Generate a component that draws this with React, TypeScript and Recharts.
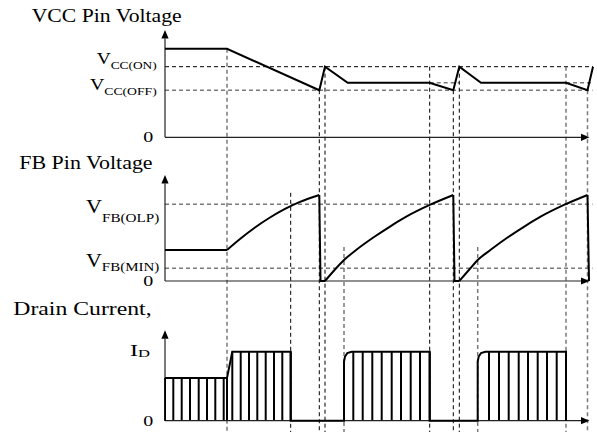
import React from "react";
import { ComposedChart, Line, XAxis, YAxis, ReferenceLine, ReferenceDot } from "recharts";

// time runs in arbitrary units, levels in arbitrary units
const VCC_T = [0, 12.4, 30.86, 32, 36.54, 52.9, 57.66, 58.86, 63.2, 80.2, 84.5, 85.6];
const VCC_V = [18.8, 18.8, 10, 15, 11.6, 11.6, 10, 15, 11.6, 11.6, 10, 15];
const VCC_ON = 15;
const VCC_OFF = 10;
const VCC_HOLD = 11.6;
const VCC_TOP = 22.8;

// FB pin: flat start, three charging ramps, sharp discharges
const FB_FLAT_T = [0, 12.4];
const FB_FLAT_V = [2.43, 2.43];
const FB_RISE1_T = [12.4, 15, 18, 21, 24, 27, 30.86];
const FB_RISE1_V = [2.43, 3.29, 4.19, 4.97, 5.64, 6.19, 6.73];
const FB_RISE2_T = [32, 34, 35.8, 38.34, 41.66, 45, 48.34, 52.94, 57.66];
const FB_RISE2_V = [0, 0.9, 1.64, 2.46, 3.4, 4.26, 5.05, 5.95, 6.73];
const FB_RISE3_T = [58.86, 60.86, 62.54, 65.2, 68.5, 71.86, 75.2, 79.8, 84.5];
const FB_RISE3_V = [0, 0.9, 1.64, 2.46, 3.4, 4.26, 5.05, 5.95, 6.73];
const FB_DROP_T = [30.86, 31.1, 32, 32, 57.66, 57.9, 58.86, 58.86, 84.5, 84.8];
const FB_DROP_V = [6.73, 0, 0, null, 6.73, 0, 0, null, 6.73, 0];
const FB_OLP = 6;
const FB_MIN = 1;
const FB_TOP = 8.3;

const ID_T = [0, 0, 12.4, 13.46, 25.14, 25.14, 35.8, 35.8, 36.0, 36.46, 37.34, 52.94, 52.94, 62.54, 62.54, 62.74, 63.2, 64.08, 80.2, 80.2];
const ID_V = [0, 0.62, 0.62, 1, 1, 0, 0, 0.857, 0.93, 0.98, 1, 1, 0, 0, 0.857, 0.93, 0.98, 1, 1, 0];
const ID_LOW = 0.62;
const ID_HIGH = 1;
const ID_TOP = 1.31;
const ID_STRIPES_LOW = [0, 1.66, 3.34, 5, 6.74, 8.4, 10.06, 11.74, 12.4];
const ID_STRIPES_HIGH = [13.46, 15.14, 16.8, 18.46, 20.14, 21.8, 23.46, 25.14, 37.66, 39.54, 41.46, 43.34, 45.34, 47.2, 49.14, 51, 52.94, 64.8, 66.8, 68.74, 70.74, 72.6, 74.54, 76.4, 78.34, 80.2];

// vertical timing markers: time, level where each starts, panel of that level
const MARK_T = [12.4, 25.14, 30.86, 32, 35.8, 52.94, 57.66, 58.86, 62.54, 80.2, 84.5];
const MARK_FROM = [18.8, 6.9, 10, 15, 2.66, 15, 10, 15, 2.66, 15, 10];
const MARK_PANEL = ["vcc", "fb", "vcc", "vcc", "fb", "vcc", "vcc", "vcc", "fb", "vcc", "vcc"];
const MARK_DARK = [false, true, true, true, false, true, true, true, false, false, false];

const LINE_END = 85.5;
const AXIS_END = 84.9;
const HOLD_EXT = [
  [52.94, 58.86],
  [80.2, 85.6],
];

const W = 597;
const H = 432;
const PLOT_LEFT = 165;
const T_MAX = 86.4;
const FONT = "Liberation Serif, Times New Roman, serif";
const GRAY = "#7a7a7a";

const domainFor = (zeroPx: number, pxPerUnit: number): [number, number] => [
  -(H - zeroPx) / pxPerUnit,
  zeroPx / pxPerUnit,
];
const DOMAINS: Record<string, [number, number]> = {
  vcc: domainFor(137.3, 4.707),
  fb: domainFor(281, 12.78),
  id: domainFor(420.7, 69),
};

const toPts = (t: number[], v: (number | null)[]) => t.map((x, i) => ({ t: x, v: v[i] }));

type Sub = {
  main: string;
  sub?: string;
  width: number;
  gap: number;
  mainSize: number;
  subSize?: number;
  mainDy: number;
  subDy?: number;
};

const subLabel = (cfg: Sub) => (props: any) => {
  const vb = props.viewBox || { x: 0, y: 0 };
  const x = vb.x - cfg.gap - cfg.width;
  return (
    <text
      x={x}
      y={vb.y + cfg.mainDy}
      fontFamily={FONT}
      fontSize={cfg.mainSize}
      fill="#000"
      textLength={cfg.width}
      lengthAdjust="spacingAndGlyphs"
    >
      <tspan>{cfg.main}</tspan>
      {cfg.sub ? (
        <tspan dy={(cfg.subDy ?? 0) - cfg.mainDy} fontSize={cfg.subSize}>
          {cfg.sub}
        </tspan>
      ) : null}
    </text>
  );
};

const zeroLabel = subLabel({ main: "0", width: 10, gap: 11.7, mainSize: 15, mainDy: 5 });

const arrowShape = (props: any) => {
  const { x1, y1, x2, y2 } = props;
  const a = Math.atan2(y2 - y1, x2 - x1);
  const len = 8.5;
  const half = 3.6;
  const bx = x2 - len * Math.cos(a);
  const by = y2 - len * Math.sin(a);
  const px = -Math.sin(a) * half;
  const py = Math.cos(a) * half;
  return (
    <g>
      <line x1={x1} y1={y1} x2={bx} y2={by} stroke="#222" strokeWidth={1.2} />
      <polygon points={`${x2},${y2} ${bx + px},${by + py} ${bx - px},${by - py}`} fill="#000" />
    </g>
  );
};

const dashed = (dark: boolean) => ({
  stroke: dark ? "#000" : GRAY,
  strokeWidth: dark ? 1 : 1.5,
  strokeDasharray: "4 3",
});

const wave = { dataKey: "v", dot: false, stroke: "#000", strokeWidth: 2, isAnimationActive: false } as const;

export default function App() {
  const tops: Record<string, number> = { vcc: VCC_TOP, fb: FB_TOP, id: ID_TOP };
  return (
    <div style={{ position: "absolute", left: 0, top: 0, width: W, height: H, background: "#fff" }}>
      <ComposedChart width={W} height={H} margin={{ top: 0, right: 0, bottom: 0, left: PLOT_LEFT }}>
        <XAxis type="number" dataKey="t" domain={[0, T_MAX]} allowDataOverflow hide />
        {Object.keys(DOMAINS).map((id) => (
          <YAxis key={id} yAxisId={id} type="number" domain={DOMAINS[id]} allowDataOverflow hide />
        ))}

        {/* horizontal threshold lines */}
        <ReferenceLine
          yAxisId="vcc"
          segment={[{ x: 0, y: VCC_ON }, { x: 85.6, y: VCC_ON }]}
          {...dashed(true)}
          ifOverflow="visible"
          label={subLabel({ main: "V", sub: "CC(ON)", width: 60, gap: 8.3, mainSize: 16, subSize: 11, mainDy: -2.7, subDy: 2.3 })}
        />
        <ReferenceLine
          yAxisId="vcc"
          segment={[{ x: 0, y: VCC_OFF }, { x: LINE_END, y: VCC_OFF }]}
          {...dashed(false)}
          ifOverflow="visible"
          label={subLabel({ main: "V", sub: "CC(OFF)", width: 66.7, gap: 8.3, mainSize: 16, subSize: 11, mainDy: -0.7, subDy: 5 })}
        />
        {HOLD_EXT.map(([a, b], i) => (
          <ReferenceLine
            key={`h${i}`}
            yAxisId="vcc"
            segment={[{ x: a, y: VCC_HOLD }, { x: b, y: VCC_HOLD }]}
            {...dashed(false)}
            ifOverflow="visible"
          />
        ))}
        <ReferenceLine
          yAxisId="fb"
          segment={[{ x: 0, y: FB_OLP }, { x: LINE_END, y: FB_OLP }]}
          {...dashed(false)}
          ifOverflow="visible"
          label={subLabel({ main: "V", sub: "FB(OLP)", width: 73.3, gap: 5.7, mainSize: 19, subSize: 13, mainDy: 9, subDy: 18 })}
        />
        <ReferenceLine
          yAxisId="fb"
          segment={[{ x: 0, y: FB_MIN }, { x: LINE_END, y: FB_MIN }]}
          {...dashed(false)}
          ifOverflow="visible"
          label={subLabel({ main: "V", sub: "FB(MIN)", width: 73.3, gap: 5.7, mainSize: 19, subSize: 13, mainDy: -1.6, subDy: 2.7 })}
        />

        {/* vertical timing markers */}
        {MARK_T.map((t, i) => (
          <ReferenceLine
            key={`m${i}`}
            yAxisId={MARK_PANEL[i]}
            segment={[{ x: t, y: MARK_FROM[i] }, { x: t, y: DOMAINS[MARK_PANEL[i]][0] }]}
            {...dashed(MARK_DARK[i])}
            ifOverflow="visible"
          />
        ))}

        {/* drain current switching pulses */}
        {ID_STRIPES_LOW.map((t, i) => (
          <ReferenceLine key={`sl${i}`} yAxisId="id" segment={[{ x: t, y: 0 }, { x: t, y: ID_LOW }]} stroke="#000" strokeWidth={2} ifOverflow="visible" />
        ))}
        {ID_STRIPES_HIGH.map((t, i) => (
          <ReferenceLine key={`sh${i}`} yAxisId="id" segment={[{ x: t, y: 0 }, { x: t, y: ID_HIGH }]} stroke="#000" strokeWidth={2} ifOverflow="visible" />
        ))}

        {/* axes with arrows */}
        {Object.keys(DOMAINS).map((id) => (
          <ReferenceLine
            key={`ya${id}`}
            yAxisId={id}
            segment={[{ x: 0, y: 0 }, { x: 0, y: tops[id] }]}
            shape={arrowShape}
            ifOverflow="visible"
          />
        ))}
        {Object.keys(DOMAINS).map((id) => (
          <ReferenceLine
            key={`xa${id}`}
            yAxisId={id}
            segment={[{ x: 0, y: 0 }, { x: AXIS_END, y: 0 }]}
            shape={arrowShape}
            ifOverflow="visible"
            label={zeroLabel}
          />
        ))}
        <ReferenceDot
          yAxisId="id"
          x={0}
          y={ID_HIGH}
          r={0}
          fill="none"
          stroke="none"
          ifOverflow="visible"
          label={subLabel({ main: "I", sub: "D", width: 20, gap: 15, mainSize: 16, subSize: 11, mainDy: 4, subDy: 5.3 })}
        />

        <Line yAxisId="vcc" data={toPts(VCC_T, VCC_V)} type="linear" {...wave} />
        <Line yAxisId="fb" data={toPts(FB_FLAT_T, FB_FLAT_V)} type="linear" {...wave} />
        <Line yAxisId="fb" data={toPts(FB_RISE1_T, FB_RISE1_V)} type="monotone" {...wave} />
        <Line yAxisId="fb" data={toPts(FB_RISE2_T, FB_RISE2_V)} type="monotone" {...wave} />
        <Line yAxisId="fb" data={toPts(FB_RISE3_T, FB_RISE3_V)} type="monotone" {...wave} />
        <Line yAxisId="fb" data={toPts(FB_DROP_T, FB_DROP_V)} type="linear" {...wave} />
        <Line yAxisId="id" data={toPts(ID_T, ID_V)} type="linear" {...wave} />
      </ComposedChart>

      <svg width={W} height={H} style={{ position: "absolute", left: 0, top: 0, pointerEvents: "none" }}>
        <text x={31.7} y={21.7} fontFamily={FONT} fontSize={18} textLength={150} lengthAdjust="spacingAndGlyphs">
          VCC Pin Voltage
        </text>
        <text x={19.3} y={169} fontFamily={FONT} fontSize={18} textLength={133.3} lengthAdjust="spacingAndGlyphs">
          FB Pin Voltage
        </text>
        <text x={13.3} y={315} fontFamily={FONT} fontSize={18} textLength={138.3} lengthAdjust="spacingAndGlyphs">
          Drain Current,
        </text>
      </svg>
    </div>
  );
}
